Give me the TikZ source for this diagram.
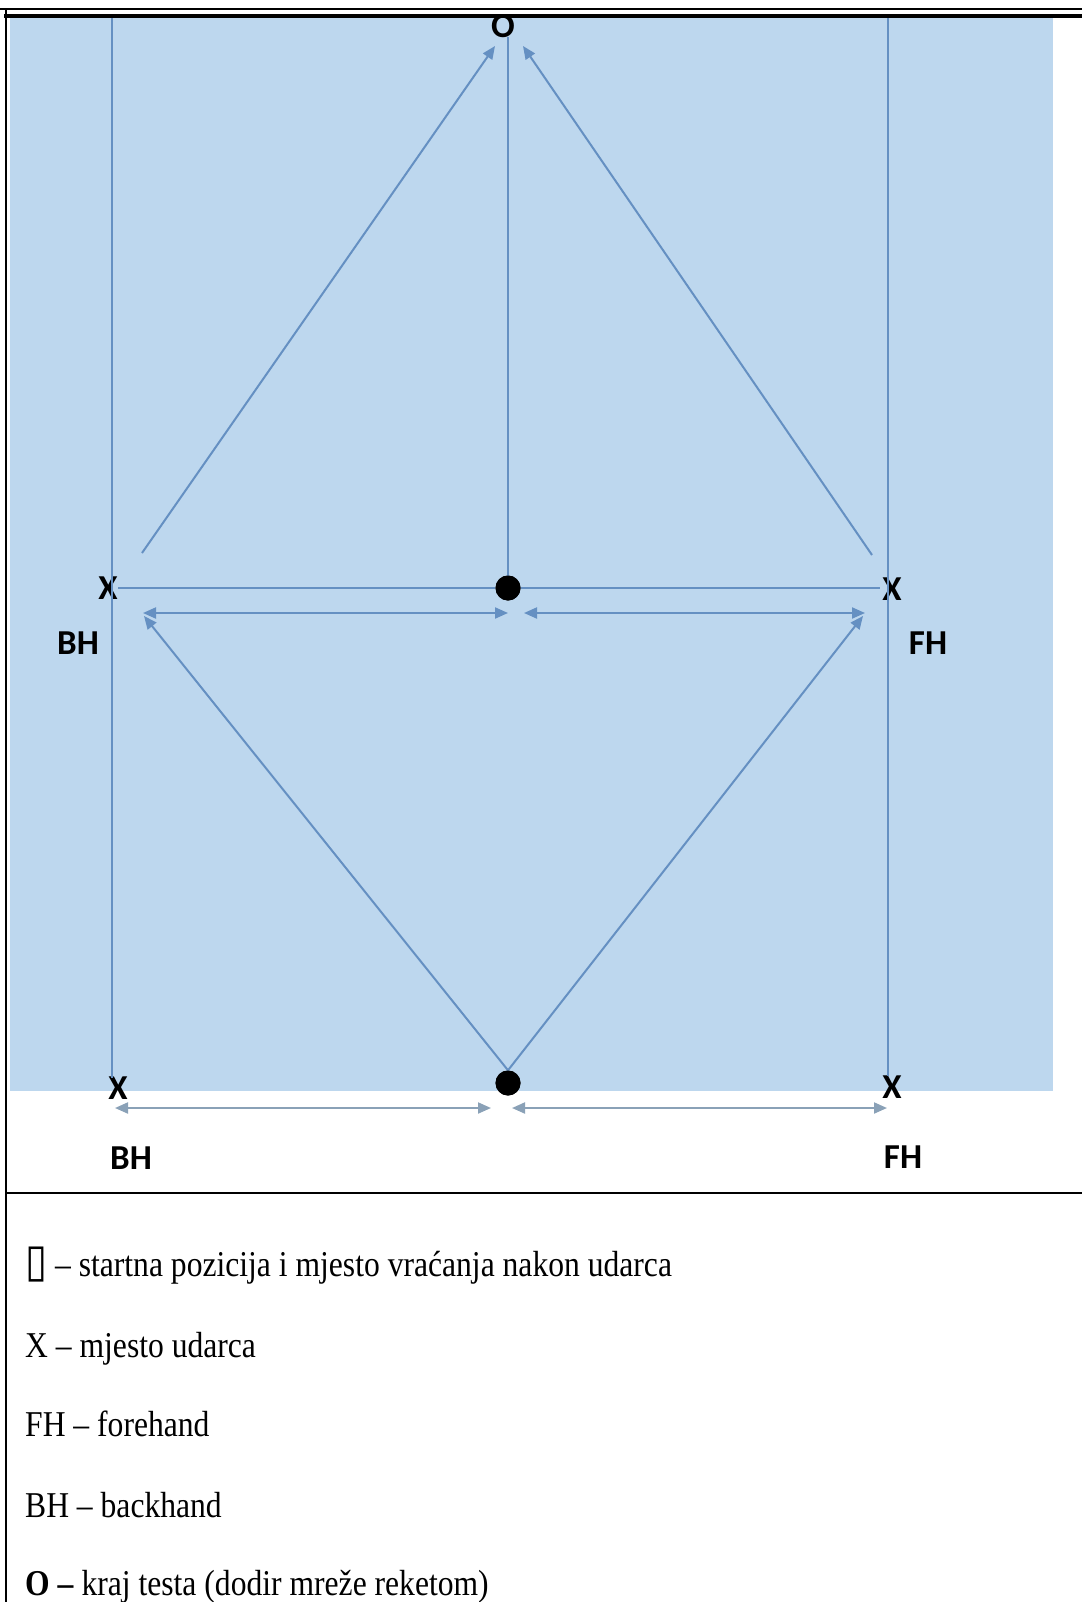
\documentclass[tikz,border=0pt]{standalone}
\usepackage{fontspec}
\usepackage{graphicx}
\setmainfont{Liberation Serif}
\newfontfamily\calib{Carlito}
\newfontfamily\dejavu{DejaVu Sans}
\usetikzlibrary{arrows.meta}
\definecolor{court}{HTML}{BDD7EE}
\definecolor{ln}{HTML}{6590C2}
\definecolor{lngray}{HTML}{8AA1B7}
\begin{document}
\begin{tikzpicture}[x=1pt,y=-1pt,
  courtline/.style={draw=ln, line width=2pt},
  arr/.style={courtline, -{Triangle[length=13pt,width=11pt]}},
  darr/.style={courtline, {Triangle[length=13pt,width=11pt]}-{Triangle[length=13pt,width=11pt]}},
  garr/.style={draw=lngray, line width=2pt, {Triangle[length=13pt,width=11pt]}-{Triangle[length=13pt,width=11pt]}},
  xlab/.style={font=\calib\bfseries\fontsize{35}{35}\selectfont, inner sep=0pt, text=black},
  dotpos/.style={circle, fill=black, minimum size=25pt, inner sep=0pt},
  legend/.style={anchor=base west, inner sep=0pt, font=\fontsize{31.6}{36}\selectfont},
  border/.style={draw=black, line width=2pt}
]
\useasboundingbox (0,0) rectangle (1082,1602);
% court
\fill[court] (10,18) rectangle (1053,1091);

% O at the net
\node[xlab] (O) at (503,26) {O};

% coordinates
\coordinate (Ltop) at (112,18);
\coordinate (Lbot) at (112,1078);
\coordinate (Rtop) at (888,18);
\coordinate (Rbot) at (888,1076);
\coordinate (Ctop) at (508,37);
\coordinate (HL) at (118,588);
\coordinate (HR) at (880,588);
\coordinate (ULs) at (142,553);
\coordinate (ULe) at (495,46);
\coordinate (URs) at (872,555);
\coordinate (URe) at (523,46);
\coordinate (A1) at (143,613);
\coordinate (A2) at (508,613);
\coordinate (A3) at (524,613);
\coordinate (A4) at (865,613);
\coordinate (DL) at (144,616);
\coordinate (DR) at (863,616);
\coordinate (B1) at (115,1108);
\coordinate (B2) at (491,1108);
\coordinate (B3) at (512,1108);
\coordinate (B4) at (887,1108);

% positions
\node[dotpos] (C1) at (508,588) {};
\node[dotpos] (C2) at (508,1083) {};
\node[xlab] (XL1) at (108,588) {X};
\node[xlab] (XR1) at (892,589) {X};
\node[xlab] (XL2) at (118,1088) {X};
\node[xlab] (XR2) at (892,1087) {X};

% lines
\draw[courtline] (Ltop) -- (Lbot);
\draw[courtline] (Rtop) -- (Rbot);
\draw[courtline] (Ctop) -- (C1.center);
\draw[courtline] (HL) -- (C1) -- (HR);
\draw[arr] (ULs) -- (ULe);
\draw[arr] (URs) -- (URe);
\draw[darr] (A1) -- (A2);
\draw[darr] (A3) -- (A4);
\draw[arr] (C2.north) -- (DL);
\draw[arr] (C2.north) -- (DR);
\draw[garr] (B1) -- (B2);
\draw[garr] (B3) -- (B4);
\node[dotpos] at (C1) {};
\node[dotpos] at (C2) {};

% labels
\node[xlab] (BH1) at (78,643) {BH};
\node[xlab] (FH1) at (928,643) {FH};
\node[xlab] (BH2) at (131,1158) {BH};
\node[xlab] (FH2) at (903,1157) {FH};

% frame
\draw[black, line width=1.6pt] (0,9) -- (1082,9);
\draw[black, line width=4pt] (4,16) -- (1082,16);
\draw[border] (6,9) -- (6,1602);
\draw[border] (6,1193) -- (1082,1193);

% legend
\node[legend] (L1) at (25,1276) {\scalebox{1}[1.15]{{\dejavu\fontsize{40}{40}\selectfont ▯} – startna pozicija i mjesto vraćanja nakon udarca}};
\node[legend] (L2) at (25,1357) {\scalebox{1}[1.15]{X – mjesto udarca}};
\node[legend] (L3) at (25,1436) {\scalebox{1}[1.15]{FH – forehand}};
\node[legend] (L4) at (25,1517) {\scalebox{1}[1.15]{BH – backhand}};
\node[legend] (L5) at (25,1595) {\scalebox{1}[1.15]{\textbf{O –} kraj testa (dodir mreže reketom)}};
\end{tikzpicture}
\end{document}
